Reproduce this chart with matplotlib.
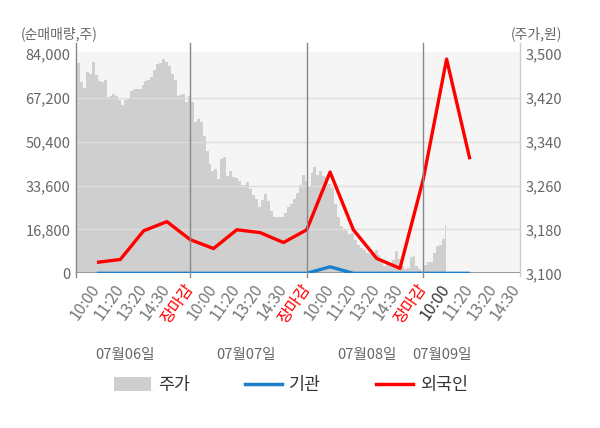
import numpy as np
import matplotlib
matplotlib.use('Agg')
import matplotlib.pyplot as plt
from matplotlib.patches import Patch
from matplotlib.lines import Line2D

plt.rcParams['font.family'] = ['Noto Sans CJK KR', 'DejaVu Sans']

# tick labels of the x axis (4 trading days)
tick_labels = ['10:00', '11:20', '13:20', '14:30', '장마감',
               '10:00', '11:20', '13:20', '14:30', '장마감',
               '10:00', '11:20', '13:20', '14:30', '장마감',
               '10:00', '11:20', '13:20', '14:30']
day_labels = ['07월06일', '07월07일', '07월08일', '07월09일']
day_label_pos = [1.2, 6.4, 11.6, 14.8]

# net buy volume (shares) at each tick
foreign = [4200, 5300, 16300, 19800, 12900, 9500, 16700, 15600, 11800,
           16700, 38800, 16700, 5700, 1900, 36100, 82100, 43700]
institution = [0, 0, 0, 0, 0, 0, 0, 0, 0, 0, 2500, 0, 0, 0, 0, 0, 0]

# intraday price (won), sampled every 1/8 tick from the start of day 1
price = [3480, 3484, 3449, 3438, 3467, 3464, 3486, 3462, 3451, 3449,
         3453, 3422, 3424, 3428, 3424, 3417, 3408, 3417, 3420, 3433,
         3437, 3437, 3437, 3444, 3451, 3453, 3458, 3471, 3482, 3484,
         3491, 3486, 3478, 3464, 3453, 3424, 3426, 3428, 3413, 3424,
         3413, 3377, 3381, 3377, 3350, 3323, 3299, 3286, 3290, 3272,
         3308, 3312, 3277, 3286, 3276, 3274, 3268, 3261, 3261, 3267,
         3254, 3243, 3236, 3221, 3234, 3245, 3232, 3214, 3203, 3203,
         3203, 3203, 3210, 3221, 3227, 3236, 3247, 3261, 3279, 3268,
         3259, 3283, 3295, 3279, 3286, 3277, 3276, 3263, 3256, 3227,
         3203, 3187, 3181, 3178, 3172, 3174, 3160, 3151, 3147, 3142,
         3138, 3136, 3138, 3142, 3134, 3120, 3114, 3118, 3113, 3124,
         3140, 3127, 3113, 3107, 3109, 3129, 3131, 3114, 3107, 3104,
         3116, 3120, 3120, 3138, 3149, 3151, 3163, 3189]

vol_ticks = [0, 16800, 33600, 50400, 67200, 84000]
price_ticks = [3100, 3180, 3260, 3340, 3420, 3500]

fig = plt.figure(figsize=(6, 4.28), dpi=100)
ax = fig.add_axes([0.1267, 0.3614, 0.74, 0.517])
ax.set_facecolor('#f5f5f5')
ax2 = ax.twinx()

x0 = -0.9
price_x = x0 + 0.125 * np.arange(len(price))
ax.fill_between(price_x, 3100, price, step='mid', color='#cfcfcf', lw=0, zorder=1)
ax.set_ylim(3100, 3504)
ax.set_xlim(x0, 18.15)
ax.yaxis.tick_right()
ax.set_yticks(price_ticks)
ax.set_yticklabels([f'{v:,}' for v in price_ticks])
ax.tick_params(axis='y', length=0, labelsize=10.5, labelcolor='#666666', pad=4,
               left=False, labelleft=False, right=True, labelright=True)

ax2.set_ylim(0, 84800)
ax2.set_yticks(vol_ticks)
ax2.set_yticklabels([f'{v:,}' for v in vol_ticks])
ax2.tick_params(axis='y', length=0, labelsize=10.5, labelcolor='#666666', pad=4,
                left=True, labelleft=True, right=False, labelright=False)
for v in vol_ticks[1:-1]:
    ax2.axhline(v, color='#dddddd', lw=1, zorder=2)

xs = np.arange(len(foreign))
ax2.plot(xs, institution, color='#1a7fcc', lw=2.4, zorder=4, solid_capstyle='butt')
ax2.plot(xs, foreign, color='#ff0000', lw=2.4, zorder=5, solid_capstyle='butt')

for s in ['top', 'left', 'right', 'bottom']:
    ax.spines[s].set_visible(False)
    ax2.spines[s].set_visible(False)
ax2.axhline(0, color='#999999', lw=1.5, zorder=3)

# axis lines and day separators (extend a bit above the plot)
ax2.axvline(x0, ymin=-0.015, ymax=1.04, color='#888888', lw=1, clip_on=False, zorder=6)
ax2.axvline(18.15, ymin=-0.01, ymax=1.04, color='#cccccc', lw=1, clip_on=False, zorder=6)
for i, lab in enumerate(tick_labels):
    if lab == '장마감':
        ax2.axvline(i, ymin=-0.015, ymax=1.04, color='#888888', lw=1, clip_on=False, zorder=6)

ax.set_xticks(range(len(tick_labels)))
ax.set_xticklabels(tick_labels, rotation=55, ha='right', va='center',
                   rotation_mode='anchor', fontsize=11.5)
ax.tick_params(axis='x', length=0, pad=9)
for i, t in enumerate(ax.get_xticklabels()):
    if tick_labels[i] == '장마감':
        t.set_color('#ff0000')
    elif i == 15:
        t.set_color('#333333')
    else:
        t.set_color('#777777')

for lab, pos in zip(day_labels, day_label_pos):
    ax.text(pos, -0.37, lab, transform=ax.get_xaxis_transform(), ha='center',
            va='center', fontsize=10.5, color='#666666')

fig.text(0.035, 0.922, '(순매매량,주)', fontsize=10, color='#666666', va='center')
fig.text(0.937, 0.922, '(주가,원)', fontsize=10, color='#666666', va='center', ha='right')

handles = [Patch(facecolor='#cfcfcf', edgecolor='none'),
           Line2D([], [], color='#1a7fcc', lw=2.5),
           Line2D([], [], color='#ff0000', lw=2.5)]
fig.legend(handles, ['주가', '기관', '외국인'], loc='center', ncol=3,
           bbox_to_anchor=(0.485, 0.1), frameon=False, fontsize=12.5,
           handlelength=2.1, handleheight=0.9, columnspacing=3.2,
           handletextpad=0.4, labelcolor='#333333')

fig.savefig('out.png', dpi=100)
